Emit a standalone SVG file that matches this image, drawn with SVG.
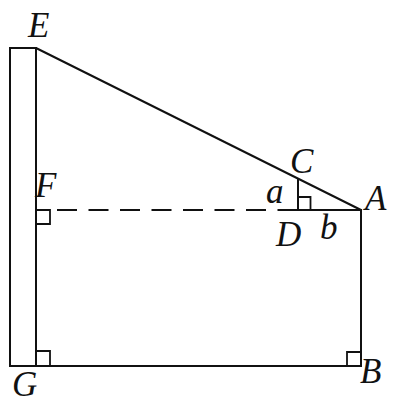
<svg xmlns="http://www.w3.org/2000/svg" width="404" height="410" viewBox="0 0 404 410">
<style>
.ln{stroke:#111;stroke-width:2;fill:none;stroke-linecap:butt;stroke-linejoin:miter}
.dash{stroke-dasharray:20 11.5}
.ra{stroke:#111;stroke-width:1.8;fill:none}
.lb{font-family:"Liberation Serif","Times New Roman",serif;font-style:italic;font-size:35px;fill:#111}
</style>
<rect width="404" height="410" fill="#fff"/>
<g id="pole">
<rect class="ln" x="10" y="48" width="26" height="318"/>
</g>
<g id="connectors">
<line class="ln" x1="36" y1="48" x2="361" y2="210"/>
<line class="ln dash" x1="57" y1="210" x2="266" y2="210"/>
<line class="ln" x1="277.5" y1="210" x2="361" y2="210"/>
<line class="ln" x1="298" y1="178.6" x2="298" y2="210"/>
<line class="ln" x1="361" y1="209" x2="361" y2="366"/>
<line class="ln" x1="36" y1="366" x2="362" y2="366"/>
</g>
<g id="marks">
<polyline class="ra" points="36,210 50,210 50,224 36,224"/>
<polyline class="ra" points="36,351 50,351 50,366"/>
<polyline class="ra" points="347,366 347,352 361,352"/>
<polyline class="ra" points="298,197 310.5,197 310.5,210"/>
</g>
<g id="E"><text class="lb" x="28" y="37">E</text></g>
<g id="C"><text class="lb" x="290" y="173">C</text></g>
<g id="A"><text class="lb" x="365" y="210">A</text></g>
<g id="a"><text class="lb" x="266" y="203">a</text></g>
<g id="D"><text class="lb" x="276" y="246">D</text></g>
<g id="b"><text class="lb" x="320" y="239">b</text></g>
<g id="F"><text class="lb" x="35" y="197">F</text></g>
<g id="G"><text class="lb" x="12" y="396">G</text></g>
<g id="B"><text class="lb" x="360" y="383">B</text></g>
</svg>
